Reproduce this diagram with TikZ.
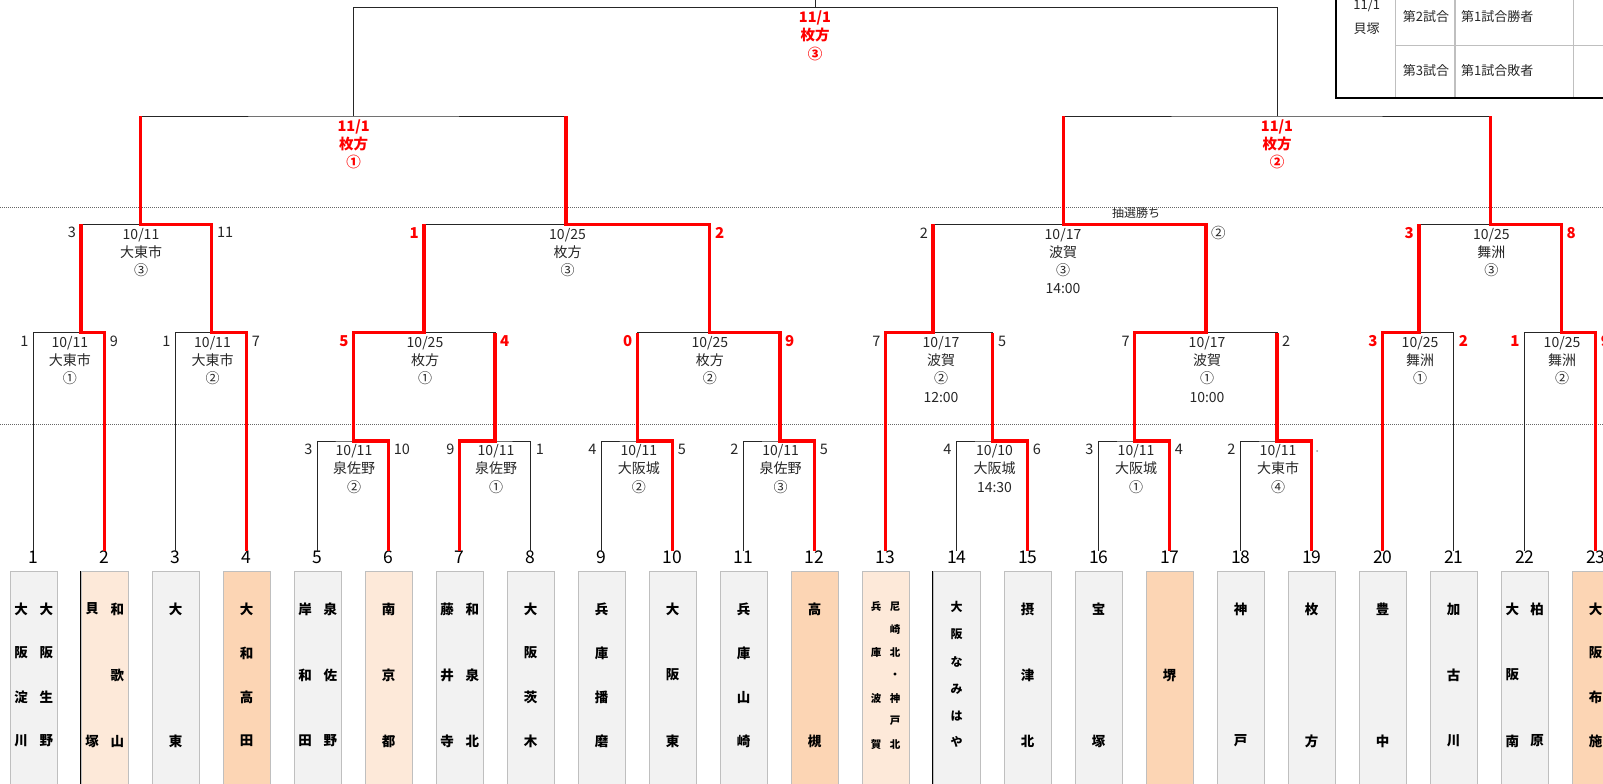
\documentclass[tikz,border=0pt]{standalone}
\usepackage{fontspec}
\setmainfont{Noto Sans CJK JP}
\definecolor{boxg}{HTML}{F2F2F2}
\definecolor{boxline}{HTML}{BFBFBF}
\definecolor{peachD}{HTML}{FCD5B4}
\definecolor{peachL}{HTML}{FDE9D9}
\definecolor{ink}{HTML}{262626}
\newcommand\vtxt[4]{\foreach \c/\yy [count=\k] in {#4} {\node[#3] (#1-\k) at (#2,\yy) {\c};}}
\newcommand\scL[5]{\node[sc,#4,anchor=east] (#1) at (#2-5,#3+8.5) {#5};}
\newcommand\scR[5]{\node[sc,#4,anchor=west] (#1) at (#2+5,#3+8.5) {#5};}
\begin{document}
\begin{tikzpicture}[x=1pt,y=-1pt,
  bk/.style={draw=ink, line width=1pt},
  rd/.style={draw=red, line width=3.2pt},
  lab/.style={inner sep=0pt, anchor=north, align=center, text=ink, font=\fontsize{14}{18.2}\selectfont},
  rlab/.style={inner sep=0pt, anchor=north, align=center, text=red, font=\fontsize{14.5}{18.2}\selectfont\bfseries},
  sc/.style={inner sep=0pt, text=ink, font=\fontsize{14.5}{14.5}\selectfont},
  rs/.style={text=red, font=\fontsize{15}{15}\selectfont\bfseries},
  num/.style={inner sep=0pt, font=\fontsize{17.5}{17.5}\selectfont},
  tm/.style={inner sep=0pt, font=\fontsize{13.5}{13.5}\selectfont\bfseries},
  tms/.style={inner sep=0pt, font=\fontsize{10.5}{10.5}\selectfont\bfseries},
  tmm/.style={inner sep=0pt, font=\fontsize{12}{12}\selectfont\bfseries},
  tb/.style={inner sep=0pt, text=ink, font=\fontsize{13}{13}\selectfont},
  dotl/.style={draw=black!60, line width=0.8pt, dash pattern=on 0.8pt off 1.2pt}]
\useasboundingbox (0,0) rectangle (1603,784);
\clip (0,0) rectangle (1603,784);
% dotted guide lines
\draw[dotl] (0,207.3) -- (1603,207.3);
\draw[dotl] (0,424) -- (1603,424);
% team boxes, numbers, top points
\foreach \i/\f in {1/boxg,2/peachL,3/boxg,4/peachD,5/boxg,6/peachL,7/boxg,8/boxg,9/boxg,10/boxg,11/boxg,12/peachD,13/peachL,14/boxg,15/boxg,16/boxg,17/peachD,18/boxg,19/boxg,20/boxg,21/boxg,22/boxg,23/peachD}{
  \pgfmathsetmacro\xx{33.7+(\i-1)*71}
  \node[draw=boxline, fill=\f, line width=1pt, minimum width=47pt, minimum height=240pt, anchor=north, inner sep=0pt] (b\i) at (\xx,571) {};
  \node[num] (n\i) at (\xx,557.5) {\i};
  \coordinate (t\i) at (\xx,551);
}
\draw[black, line width=1pt] (b2.north west) -- (b2.south west);
\draw[black, line width=1pt] (b14.north west) -- (b14.south west);
% team names (vertical)
\vtxt{a1}{46.3}{tm}{大/609,阪/653,生/697,野/741}
\vtxt{a1b}{21.1}{tm}{大/609,阪/653,淀/697,川/741}
\vtxt{a2}{117.3}{tm}{和/609,歌/675,山/741}
\vtxt{a2b}{92.1}{tm}{貝/609,塚/741}
\vtxt{a3}{175.7}{tm}{大/609,東/741}
\vtxt{a4}{246.7}{tm}{大/609,和/653,高/697,田/741}
\vtxt{a5}{330.3}{tm}{泉/609,佐/675,野/741}
\vtxt{a5b}{305.1}{tm}{岸/609,和/675,田/741}
\vtxt{a6}{388.7}{tm}{南/609,京/675,都/741}
\vtxt{a7}{472.3}{tm}{和/609,泉/675,北/741}
\vtxt{a7b}{447.1}{tm}{藤/609,井/675,寺/741}
\vtxt{a8}{530.7}{tm}{大/609,阪/653,茨/697,木/741}
\vtxt{a9}{601.7}{tm}{兵/609,庫/653,播/697,磨/741}
\vtxt{a10}{672.7}{tm}{大/609,阪/675,東/741}
\vtxt{a11}{743.7}{tm}{兵/609,庫/653,山/697,崎/741}
\vtxt{a12}{814.7}{tm}{高/609,槻/741}
\vtxt{a13}{895.2}{tms}{尼/606.7,崎/629.3,北/652.7,・/675.3,神/698.3,戸/720.7,北/744.3}
\vtxt{a13b}{876.2}{tms}{兵/606.7,庫/652.7,波/698.3,賀/744.3}
\vtxt{a14}{956.7}{tmm}{大/607.3,阪/634.3,な/661.7,み/689,は/716,や/742.3}
\vtxt{a15}{1027.7}{tm}{摂/609,津/675,北/741}
\vtxt{a16}{1098.7}{tm}{宝/609,塚/741}
\vtxt{a17}{1169.7}{tm}{堺/675}
\vtxt{a18}{1240.7}{tm}{神/609,戸/741}
\vtxt{a19}{1311.7}{tm}{枚/609,方/741}
\vtxt{a20}{1382.7}{tm}{豊/609,中/741}
\vtxt{a21}{1453.7}{tm}{加/609,古/675,川/741}
\vtxt{a22}{1537.1}{tm}{柏/609,原/741}
\vtxt{a22b}{1512.3}{tm}{大/609,阪/675,南/741}
\vtxt{a23}{1595.7}{tm}{大/609,阪/653,布/697,施/741}
% match points
\coordinate (m1) at (81,332.7);
\coordinate (m2) at (211.8,332.7);
\coordinate (m3) at (353.6,441);
\coordinate (m4) at (495,441);
\coordinate (m5) at (637.5,441);
\coordinate (m6) at (780,441);
\coordinate (m8) at (992.8,441);
\coordinate (m9) at (1134.8,441);
\coordinate (m10) at (1277,441);
\coordinate (m11) at (1419,332.7);
\coordinate (m12) at (1561.4,332.7);
\coordinate (r2a) at (424,332.7);
\coordinate (r2b) at (709.8,332.7);
\coordinate (m7) at (933,332.7);
\coordinate (r2c) at (1206,332.7);
\coordinate (q1) at (140.2,224.3);
\coordinate (q2) at (566,224.3);
\coordinate (q3) at (1063.5,224.3);
\coordinate (q4) at (1490.4,224.3);
\coordinate (s1) at (353.7,116);
\coordinate (s2) at (1277,116);
\coordinate (fin) at (815,7.3);
\coordinate (fintop) at (815,-3);
% black bracket
\draw[bk] (t1) |- (m1) -| (t2);
\draw[bk] (t3) |- (m2) -| (t4);
\draw[bk] (t5) |- (m3) -| (t6);
\draw[bk] (t7) |- (m4) -| (t8);
\draw[bk] (t9) |- (m5) -| (t10);
\draw[bk] (t11) |- (m6) -| (t12);
\draw[bk] (t14) |- (m8) -| (t15);
\draw[bk] (t16) |- (m9) -| (t17);
\draw[bk] (t18) |- (m10) -| (t19);
\draw[bk] (t20) |- (m11) -| (t21);
\draw[bk] (t22) |- (m12) -| (t23);
\draw[bk] (m3) |- (r2a) -| (m4);
\draw[bk] (m5) |- (r2b) -| (m6);
\draw[bk] (t13) |- (m7) -| (m8);
\draw[bk] (m9) |- (r2c) -| (m10);
\draw[bk] (m1) |- (q1) -| (m2);
\draw[bk] (r2a) |- (q2) -| (r2b);
\draw[bk] (m7) |- (q3) -| (r2c);
\draw[bk] (m11) |- (q4) -| (m12);
\draw[bk] (q1) |- (s1) -| (q2);
\draw[bk] (q3) |- (s2) -| (q4);
\draw[bk] (s1) |- (fin) -| (s2);
\draw[bk] (fin) -- (fintop);
% red winner paths
\draw[rd] (t2) |- (m1) -- (m1 |- q1);
\draw[rd] (t4) |- (m2) |- (q1) -- (q1 |- s1);
\draw[rd] (t6) |- (m3) |- (r2a) -- (r2a |- q2);
\draw[rd] (t7) |- (m4) -- (m4 |- r2a);
\draw[rd] (t10) |- (m5) -- (m5 |- r2b);
\draw[rd] (t12) |- (m6) |- (r2b) |- (q2) -- (q2 |- s1);
\draw[rd] (t13) |- (m7) -- (m7 |- q3);
\draw[rd] (t15) |- (m8) -- (m8 |- m7);
\draw[rd] (t17) |- (m9) |- (r2c) |- (q3) -- (q3 |- s2);
\draw[rd] (t19) |- (m10) -- (m10 |- r2c);
\draw[rd] (t20) |- (m11) -- (m11 |- q4);
\draw[rd] (t23) |- (m12) |- (q4) -- (q4 |- s2);
% match labels
\node[lab] (l1) at (69.9,336.1) {10/11\\大東市\\①};
\node[lab] (l2) at (212.5,336.1) {10/11\\大東市\\②};
\node[lab] (l3) at (354,444.4) {10/11\\泉佐野\\②};
\node[lab] (l4) at (496,444.4) {10/11\\泉佐野\\①};
\node[lab] (l5) at (638.8,444.4) {10/11\\大阪城\\②};
\node[lab] (l6) at (780.7,444.4) {10/11\\泉佐野\\③};
\node[lab] (l8) at (994.5,444.4) {10/10\\大阪城\\14:30};
\node[lab] (l9) at (1136,444.4) {10/11\\大阪城\\①};
\node[lab] (l10) at (1278,444.4) {10/11\\大東市\\④};
\node[lab] (l11) at (1420,336.1) {10/25\\舞洲\\①};
\node[lab] (l12) at (1562,336.1) {10/25\\舞洲\\②};
\node[lab] (lr2a) at (425,336.1) {10/25\\枚方\\①};
\node[lab] (lr2b) at (709.8,336.1) {10/25\\枚方\\②};
\node[lab] (l7) at (941,336.1) {10/17\\波賀\\②\\12:00};
\node[lab] (lr2c) at (1207,336.1) {10/17\\波賀\\①\\10:00};
\node[lab] (lq1) at (141,227.7) {10/11\\大東市\\③};
\node[lab] (lq2) at (567.5,227.7) {10/25\\枚方\\③};
\node[lab] (lq3) at (1063,227.7) {10/17\\波賀\\③\\14:00};
\node[lab] (lq4) at (1491.4,227.7) {10/25\\舞洲\\③};
\node[rlab] (ls1) at (353.7,119.4) {11/1\\枚方\\①};
\node[rlab] (ls2) at (1277,119.4) {11/1\\枚方\\②};
\node[rlab] (lf) at (815,10.7) {11/1\\枚方\\③};
\node[inner sep=0pt, text=ink, font=\fontsize{12}{12}\selectfont] (lot) at (1136,213.3) {抽選勝ち};
% scores
\scL{s1a}{33.7}{332.7}{}{1}  \scR{s1b}{104.7}{332.7}{}{9}
\scL{s2a}{175.7}{332.7}{}{1} \scR{s2b}{246.7}{332.7}{}{7}
\scL{s3a}{317.7}{441}{}{3}   \scR{s3b}{388.7}{441}{}{10}
\scL{s4a}{459.7}{441}{}{9}   \scR{s4b}{530.7}{441}{}{1}
\scL{s5a}{601.7}{441}{}{4}   \scR{s5b}{672.7}{441}{}{5}
\scL{s6a}{743.7}{441}{}{2}   \scR{s6b}{814.7}{441}{}{5}
\scL{s8a}{956.7}{441}{}{4}   \scR{s8b}{1027.7}{441}{}{6}
\scL{s9a}{1098.7}{441}{}{3}  \scR{s9b}{1169.7}{441}{}{4}
\scL{s10a}{1240.7}{441}{}{2}
\scL{s11a}{1382.7}{332.7}{rs}{3} \scR{s11b}{1453.7}{332.7}{rs}{2}
\scL{s12a}{1524.7}{332.7}{rs}{1} \scR{s12b}{1595.7}{332.7}{rs}{9}
\scL{sr2aa}{353.6}{332.7}{rs}{5} \scR{sr2ab}{495}{332.7}{rs}{4}
\scL{sr2ba}{637.5}{332.7}{rs}{0} \scR{sr2bb}{780}{332.7}{rs}{9}
\scL{s7a}{885.7}{332.7}{}{7}  \scR{s7b}{992.8}{332.7}{}{5}
\scL{sr2ca}{1134.8}{332.7}{}{7} \scR{sr2cb}{1277}{332.7}{}{2}
\scL{sq1a}{81}{224.3}{}{3}    \scR{sq1b}{211.8}{224.3}{}{11}
\scL{sq2a}{424}{224.3}{rs}{1} \scR{sq2b}{709.8}{224.3}{rs}{2}
\scL{sq3a}{933}{224.3}{}{2}   \scR{sq3b}{1206}{224.3}{}{②}
\scL{sq4a}{1419}{224.3}{rs}{3} \scR{sq4b}{1561.4}{224.3}{rs}{8}
\fill[black!40] (1317,451) circle (1pt);
% top-right table
\coordinate (tbl) at (1335.7,98.3);
\draw[boxline, line width=1.3pt] (1395.3,-3) -- (1395.3,98.3) (1455,-3) -- (1455,98.3) (1573.3,-3) -- (1573.3,98.3) (1395.3,45.7) -- (1610,45.7);
\draw[black, line width=2.2pt] (1335.7,-3) -- (tbl) -- (1610,98.3);
\node[tb] (tb1) at (1366.7,5.5) {11/1};
\node[tb] (tb2) at (1366.7,28.3) {貝塚};
\node[tb] (tb3) at (1426,16.7) {第2試合};
\node[tb] (tb4) at (1497.3,16.7) {第1試合勝者};
\node[tb] (tb5) at (1426,70.7) {第3試合};
\node[tb] (tb6) at (1497.3,70.7) {第1試合敗者};
\end{tikzpicture}
\end{document}
